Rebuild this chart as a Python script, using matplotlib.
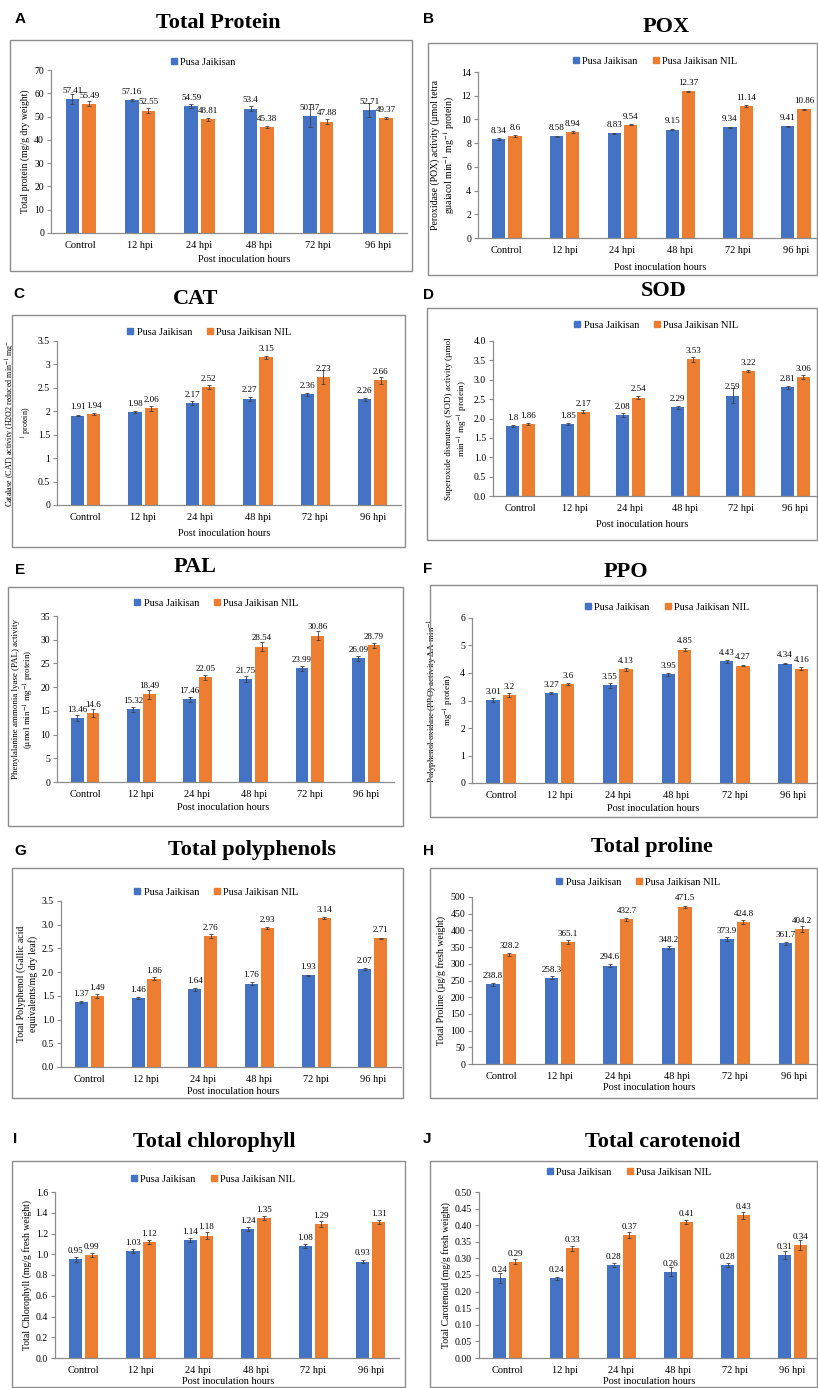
import numpy as np
import matplotlib
matplotlib.use('Agg')
import matplotlib.pyplot as plt
from matplotlib.patches import Rectangle
from matplotlib.lines import Line2D

plt.rcParams['font.family'] = ['Liberation Serif', 'DejaVu Serif']
plt.rcParams['mathtext.fontset'] = 'stix'

W, H = 818, 1388
BLUE = '#4472C4'
ORANGE = '#ED7D31'
GRAY = '#8c8c8c'

categories = ['Control', '12 hpi', '24 hpi', '48 hpi', '72 hpi', '96 hpi']

# A: total protein
protein_pj = [57.41, 57.16, 54.59, 53.4, 50.37, 52.71]
protein_nil = [55.49, 52.55, 48.81, 45.38, 47.88, 49.37]
protein_pj_err = [2.2, 0.6, 1.0, 1.0, 5.0, 3.0]
protein_nil_err = [1.0, 1.0, 0.5, 0.5, 1.2, 0.6]
# B: POX
pox_pj = [8.34, 8.58, 8.83, 9.15, 9.34, 9.41]
pox_nil = [8.6, 8.94, 9.54, 12.37, 11.14, 10.86]
pox_pj_err = [0.08, 0.06, 0.06, 0.06, 0.06, 0.06]
pox_nil_err = [0.06, 0.06, 0.05, 0.05, 0.05, 0.06]
# C: CAT
cat_pj = [1.91, 1.98, 2.17, 2.27, 2.36, 2.26]
cat_nil = [1.94, 2.06, 2.52, 3.15, 2.73, 2.66]
cat_pj_err = [0.02, 0.02, 0.04, 0.04, 0.04, 0.03]
cat_nil_err = [0.02, 0.05, 0.05, 0.04, 0.15, 0.07]
# D: SOD
sod_pj = [1.8, 1.85, 2.08, 2.29, 2.59, 2.81]
sod_nil = [1.86, 2.17, 2.54, 3.53, 3.22, 3.06]
sod_pj_err = [0.02, 0.03, 0.05, 0.04, 0.2, 0.04]
sod_nil_err = [0.02, 0.04, 0.04, 0.06, 0.03, 0.05]
# E: PAL
pal_pj = [13.46, 15.32, 17.46, 21.75, 23.99, 26.09]
pal_nil = [14.6, 18.49, 22.05, 28.54, 30.86, 28.79]
pal_pj_err = [0.7, 0.5, 0.5, 0.6, 0.5, 0.5]
pal_nil_err = [0.8, 0.9, 0.5, 1.0, 0.9, 0.5]
# F: PPO
ppo_pj = [3.01, 3.27, 3.55, 3.95, 4.43, 4.34]
ppo_nil = [3.2, 3.6, 4.13, 4.85, 4.27, 4.16]
ppo_pj_err = [0.08, 0.05, 0.08, 0.05, 0.05, 0.03]
ppo_nil_err = [0.06, 0.03, 0.06, 0.05, 0.03, 0.06]
# G: total polyphenols
phen_pj = [1.37, 1.46, 1.64, 1.76, 1.93, 2.07]
phen_nil = [1.49, 1.86, 2.76, 2.93, 3.14, 2.71]
phen_pj_err = [0.03, 0.02, 0.03, 0.03, 0.02, 0.02]
phen_nil_err = [0.04, 0.03, 0.04, 0.02, 0.03, 0.02]
# H: total proline
prol_pj = [238.8, 258.3, 294.6, 348.2, 373.9, 361.7]
prol_nil = [328.2, 365.1, 432.7, 471.5, 424.8, 404.2]
prol_pj_err = [5, 4, 4, 5, 5, 5]
prol_nil_err = [4, 5, 5, 3, 7, 8]
# I: total chlorophyll
chl_pj = [0.95, 1.03, 1.14, 1.24, 1.08, 0.93]
chl_nil = [0.99, 1.12, 1.18, 1.35, 1.29, 1.31]
chl_pj_err = [0.02, 0.02, 0.02, 0.02, 0.02, 0.01]
chl_nil_err = [0.02, 0.02, 0.03, 0.02, 0.03, 0.02]
# J: total carotenoid
car_pj = [0.24, 0.24, 0.28, 0.26, 0.28, 0.31]
car_nil = [0.29, 0.33, 0.37, 0.41, 0.43, 0.34]
car_pj_err = [0.015, 0.005, 0.006, 0.014, 0.006, 0.012]
car_nil_err = [0.008, 0.008, 0.009, 0.006, 0.01, 0.015]

fig = plt.figure(figsize=(W / 100, H / 100), dpi=100)


def fx(x):
    return x / W


def fy(y):
    return 1 - y / H


def panel(letter, title, ylabel, pj, nil, pj_err, nil_err, ymax, ystep, fmt,
          frame, axbox, title_xy, letter_xy, legend_xy, xlabel_xy,
          two_series=True, ylabel_size=7):
    # outer grey frame
    l, t, r, b = frame
    fig.add_artist(Rectangle((fx(l), fy(b)), fx(r - l), (b - t) / H, fill=False,
                             edgecolor=GRAY, lw=1.0, transform=fig.transFigure))
    # plot area: left, top, spacing, bottom (pixels)
    left, top, spacing, bottom = axbox
    ax = fig.add_axes([fx(left), fy(bottom), fx(6 * spacing), (bottom - top) / H])
    x = np.arange(len(categories))
    w = 0.23
    ekw = dict(ecolor='#404040', elinewidth=0.6, capsize=1.3, capthick=0.6)
    ax.bar(x - 0.14, pj, w, color=BLUE, yerr=pj_err, error_kw=ekw)
    ax.bar(x + 0.14, nil, w, color=ORANGE, yerr=nil_err, error_kw=ekw)
    for xi, v in zip(x - 0.14, pj):
        ax.annotate(f'{v:g}', (xi, v), xytext=(0, 3), textcoords='offset points',
                    ha='center', va='bottom', fontsize=6.5)
    for xi, v in zip(x + 0.14, nil):
        ax.annotate(f'{v:g}', (xi, v), xytext=(0, 3), textcoords='offset points',
                    ha='center', va='bottom', fontsize=6.5)
    ax.set_xlim(-0.5, 5.5)
    ax.set_ylim(0, ymax)
    ticks = np.arange(0, ymax + ystep / 2, ystep)
    ax.set_yticks(ticks)
    ax.set_yticklabels([fmt(v) for v in ticks], fontsize=7)
    ax.set_xticks(x)
    ax.set_xticklabels(categories, fontsize=7.5)
    ax.tick_params(axis='x', length=0, pad=6)
    ax.tick_params(axis='y', length=3, width=0.8, color=GRAY, pad=2)
    for s in ['top', 'right']:
        ax.spines[s].set_visible(False)
    for s in ['left', 'bottom']:
        ax.spines[s].set_color(GRAY)
        ax.spines[s].set_linewidth(0.9)
    ax.set_ylabel(ylabel, fontsize=ylabel_size, labelpad=3)
    ax.patch.set_alpha(0)

    fig.text(fx(title_xy[0]), fy(title_xy[1]), title, ha='center', va='center',
             fontsize=16, fontweight='bold')
    fig.text(fx(letter_xy[0]), fy(letter_xy[1]), letter, ha='center', va='center',
             fontsize=11, fontweight='bold', family='Liberation Sans')
    fig.text(fx(xlabel_xy[0]), fy(xlabel_xy[1]), 'Post inoculation hours',
             ha='center', va='center', fontsize=7.5)

    handles = [Line2D([], [], marker='s', ls='', color=BLUE, markersize=4.5, label='Pusa Jaikisan')]
    if two_series:
        handles.append(Line2D([], [], marker='s', ls='', color=ORANGE, markersize=4.5,
                              label='Pusa Jaikisan NIL'))
    fig.legend(handles=handles, loc='center', ncol=2, frameon=False, fontsize=7.5,
               bbox_to_anchor=(fx(legend_xy[0]), fy(legend_xy[1])),
               handletextpad=0.1, columnspacing=1.2, handlelength=1.0)
    return ax


int_fmt = lambda v: f'{v:g}'
one_dec = lambda v: f'{v:.1f}'
two_dec = lambda v: f'{v:.2f}'

panel('A', 'Total Protein', 'Total protein (mg/g dry weight)',
      protein_pj, protein_nil, protein_pj_err, protein_nil_err, 70, 10, int_fmt,
      (10, 40, 412, 271), (51, 70, 59.4, 233), (218, 23), (20, 19), (202, 62), (244, 260),
      two_series=False)
panel('B', 'POX', 'Peroxidase (POX) activity (µmol tetra\nguaiacol min$^{-1}$ mg$^{-1}$ protein)',
      pox_pj, pox_nil, pox_pj_err, pox_nil_err, 14, 2, int_fmt,
      (428, 43, 817, 275), (478, 72, 57.8, 238), (666, 27), (428, 19), (654, 61), (660, 267))
panel('C', 'CAT', 'Catalase (CAT) activity (H2O2 reduced min$^{-1}$ mg$^{-}$\n$^{1}$ protein)',
      cat_pj, cat_nil, cat_pj_err, cat_nil_err, 3.5, 0.5, int_fmt,
      (12, 315, 405, 547), (57, 341, 57.4, 505), (196, 299), (19, 294), (208, 332), (224, 533),
      ylabel_size=5.8)
panel('D', 'SOD', 'Superoxide dismutase (SOD) activity (µmol\nmin$^{-1}$ mg$^{-1}$ protein)',
      sod_pj, sod_nil, sod_pj_err, sod_nil_err, 4.0, 0.5, one_dec,
      (427, 308, 817, 540), (493, 341, 55, 496), (664, 291), (428, 295), (655, 325), (642, 525),
      ylabel_size=6.6)
panel('E', 'PAL', 'Phenylalanine ammonia lyase (PAL) activity\n(µmol min$^{-1}$ mg$^{-1}$ protein)',
      pal_pj, pal_nil, pal_pj_err, pal_nil_err, 35, 5, int_fmt,
      (8, 587, 403, 826), (57, 616, 56.2, 782), (195, 567), (20, 570), (215, 603), (223, 807),
      ylabel_size=6.4)
panel('F', 'PPO', 'Polyphenol oxidase (PPO) activity ΔA min$^{-1}$\nmg$^{-1}$ protein)',
      ppo_pj, ppo_nil, ppo_pj_err, ppo_nil_err, 6, 1, int_fmt,
      (430, 585, 817, 817), (472, 618, 58.4, 783), (626, 572), (428, 569), (666, 607), (653, 809),
      ylabel_size=6.5)
panel('G', 'Total polyphenols', 'Total Polyphenol (Gallic acid\nequivalents/mg dry leaf)',
      phen_pj, phen_nil, phen_pj_err, phen_nil_err, 3.5, 0.5, one_dec,
      (12, 868, 403, 1098), (61, 901, 56.7, 1067), (252, 850), (20, 851), (215, 892), (233, 1092))
panel('H', 'Total proline', 'Total Proline (µg/g fresh weight)',
      prol_pj, prol_nil, prol_pj_err, prol_nil_err, 500, 50, int_fmt,
      (430, 868, 817, 1098), (472, 897, 58.5, 1064), (652, 847), (429, 851), (637, 882), (649, 1088))
panel('I', 'Total chlorophyll', 'Total Chlorophyll (mg/g fresh weight)',
      chl_pj, chl_nil, chl_pj_err, chl_nil_err, 1.6, 0.2, one_dec,
      (12, 1161, 405, 1387), (55, 1192, 57.4, 1358), (214, 1142), (15, 1139), (212, 1179), (228, 1381))
panel('J', 'Total carotenoid', 'Total Carotenoid (mg/g fresh weight)',
      car_pj, car_nil, car_pj_err, car_nil_err, 0.5, 0.05, two_dec,
      (430, 1161, 817, 1387), (479, 1192, 57, 1358), (663, 1142), (427, 1139), (628, 1172), (649, 1381))

fig.savefig('out.png', dpi=100)
